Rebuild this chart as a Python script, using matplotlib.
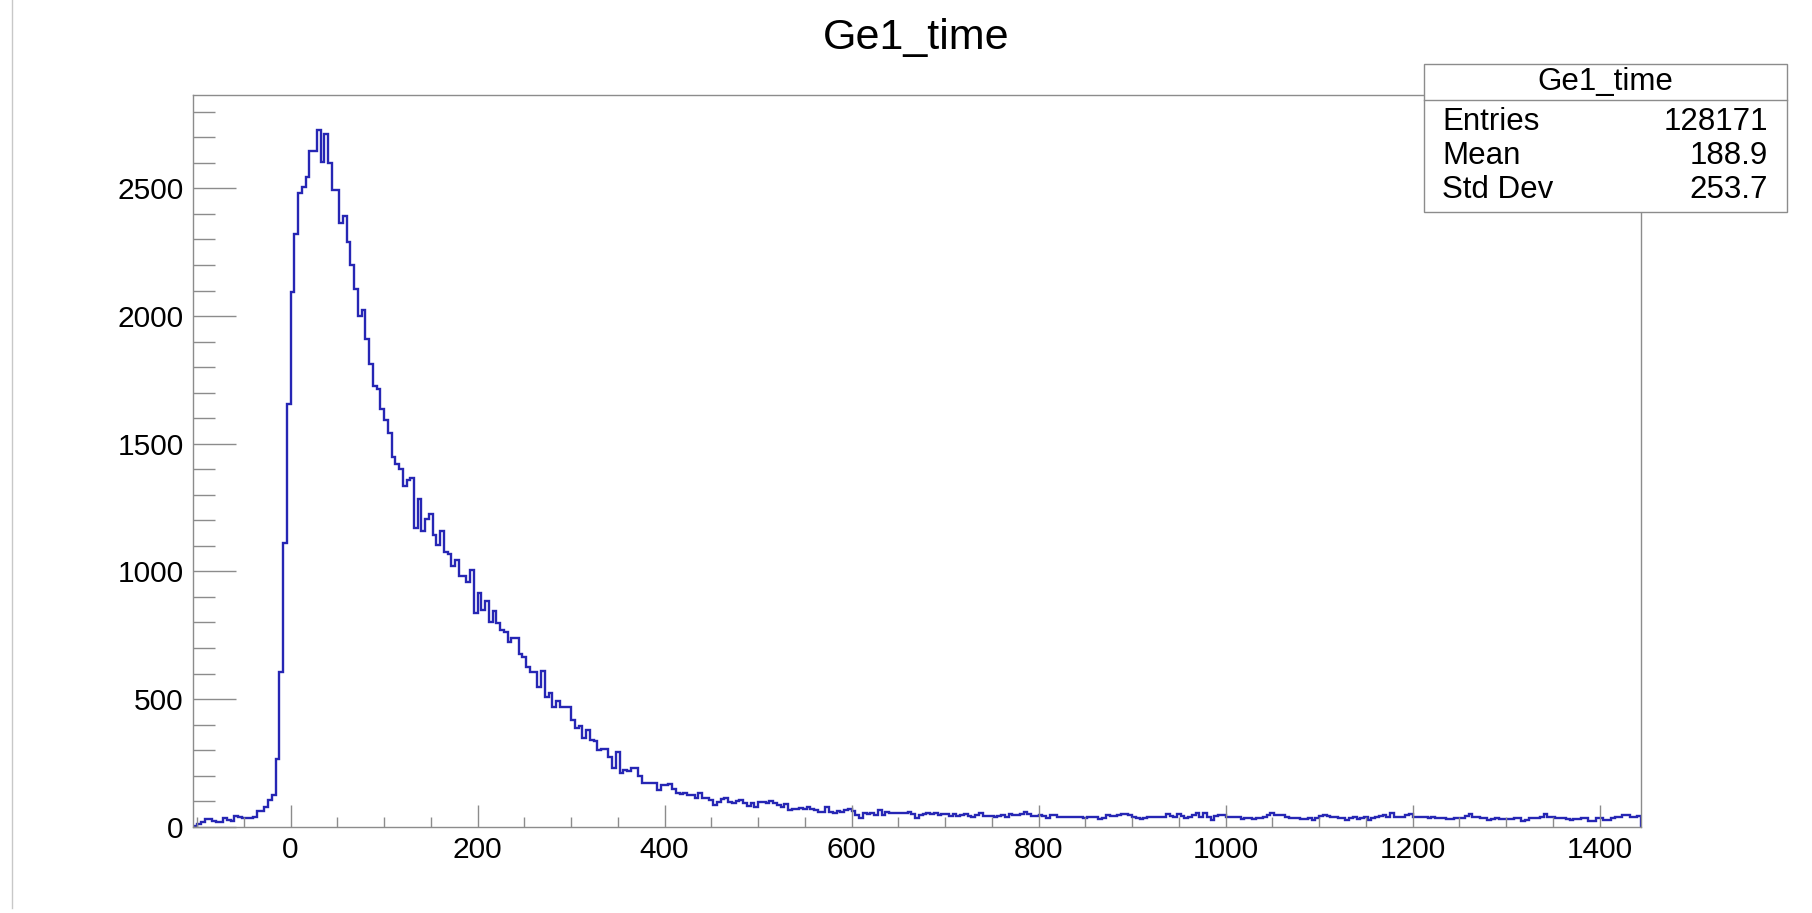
import numpy as np
import matplotlib
matplotlib.use('Agg')
matplotlib.rcParams['font.family'] = ['Liberation Sans', 'DejaVu Sans']
import matplotlib.pyplot as plt
from matplotlib.ticker import MultipleLocator
from matplotlib.patches import Rectangle
from matplotlib.lines import Line2D

# ----------------------------------------------------------------------
# 数据: Ge1_time 直方图 (bin 宽 4, 从 -104 开始)
# ----------------------------------------------------------------------
hist_name = 'Ge1_time'
bin_lo = -104
bin_width = 4

counts_rise = [4, 10, 20, 29, 29, 23, 20, 20, 33, 26, 23, 42, 40, 36, 33, 36,
               38, 61, 61, 77, 104, 126, 266, 605, 1113, 1656]
counts_peak = [2094, 2323, 2480, 2504, 2543, 2647, 2647, 2728, 2602, 2713,
               2598, 2495, 2495, 2365, 2391, 2289, 2199, 2107, 1999, 2025,
               1911, 1813, 1725, 1714]
counts_fall = [1635, 1591, 1541, 1446, 1421, 1400, 1335, 1358, 1365, 1169,
               1282, 1160, 1204, 1225, 1143, 1104, 1160, 1077, 1067, 1021,
               1045, 982, 982, 960, 1006, 836, 917]
counts_mid = [849, 884, 803, 845, 797, 771, 764, 725, 738, 738, 677, 666, 627,
              605, 605, 549, 610, 509, 522, 470, 492, 468, 468, 468, 418, 385,
              396, 346, 379, 340, 337, 300, 303, 303, 274, 231, 291, 209, 222,
              218, 229, 229, 199, 170, 170, 173, 173, 144, 163, 163, 166, 146,
              131, 127]
counts_tail = [133, 124, 124, 111, 133, 114, 114, 104, 87,
               98, 107, 111, 98, 91, 102, 104, 91, 81, 91,
               78, 95, 95, 91, 102, 91, 85, 76, 89, 65,
               69, 69, 72, 69, 76, 68, 65, 59, 59, 76,
               59, 52, 63, 59, 65, 68, 63, 46, 35, 55,
               48, 55, 46, 65, 46, 59, 52, 55, 52, 52,
               52, 57, 48, 35, 46, 50, 55, 48, 55, 46,
               48, 48, 43, 50, 43, 46, 50, 42, 39, 46,
               52, 42, 43, 43, 37, 43, 46, 39, 48, 46,
               46, 50, 57, 50, 43, 42, 46, 42, 35, 44,
               44, 39, 39, 39, 37, 39, 37, 37, 35, 37,
               39, 39, 29, 33, 46, 43, 43, 44, 51, 51,
               46, 39, 33, 29, 35, 39, 39, 39, 39,
               39, 50, 43, 39, 48, 43, 33, 39, 46, 55,
               39, 52, 39, 25, 42, 46, 46, 39, 39, 39,
               39, 29, 33, 33, 29, 33, 33, 39, 46, 52,
               46, 46, 46, 39, 33, 33, 33, 29, 29, 33,
               26, 33, 42, 46, 42, 39, 39, 35, 35, 26,
               33, 39, 29, 33, 39, 26, 33, 39, 42, 46,
               39, 55, 39, 39, 39, 46, 48, 39, 39, 39,
               39, 33, 39, 35, 33, 33, 29, 29, 33, 35,
               35, 42, 48, 39, 39, 33, 33, 26, 29, 33,
               29, 29, 30, 30, 33, 33, 24, 26, 33, 33,
               33, 39, 50, 39, 39, 35, 33, 33, 29, 26,
               29, 29, 33, 33, 24, 24, 33, 33, 26, 26,
               35, 39, 39, 46, 46, 39, 39, 42]

counts = np.array(counts_rise + counts_peak + counts_fall + counts_mid + counts_tail)
edges = bin_lo + bin_width * np.arange(len(counts) + 1)

# 统计框 (ROOT stats box)
stat_names = ['Entries', 'Mean', 'Std Dev']
stat_values = ['128171', '188.9', '253.7']

# ----------------------------------------------------------------------
# 绘图
# ----------------------------------------------------------------------
frame_color = '#8c8c8c'
line_color = '#2626b4'

fig = plt.figure(figsize=(18.12, 9.13), dpi=100)
ax = fig.add_axes([0.1067, 0.0945, 0.7988, 0.8011])

ax.stairs(counts, edges, baseline=0, color=line_color, lw=1.7)

ax.set_xlim(edges[0], edges[-1])
ax.set_ylim(0, 1.05 * counts.max())

ax.xaxis.set_major_locator(MultipleLocator(200))
ax.xaxis.set_minor_locator(MultipleLocator(50))
ax.yaxis.set_major_locator(MultipleLocator(500))
ax.yaxis.set_minor_locator(MultipleLocator(100))

ax.tick_params(which='both', direction='in', top=False, right=False,
               color=frame_color, width=1, labelsize=21.5, labelcolor='black')
ax.tick_params(axis='x', which='major', length=15.8, pad=7)
ax.tick_params(axis='x', which='minor', length=7.5)
ax.tick_params(axis='y', which='major', length=31, pad=7)
ax.tick_params(axis='y', which='minor', length=15.8)

for sp in ax.spines.values():
    sp.set_color(frame_color)
    sp.set_linewidth(1)

# 标题
fig.text(0.5055, 0.958, hist_name, ha='center', va='center', fontsize=31)

# 统计框
bx0, bx1 = 0.7859, 0.9860
by0, by1 = 0.7681, 0.9299
sep_y = 0.8905
fig.add_artist(Rectangle((bx0, by0), bx1 - bx0, by1 - by0, transform=fig.transFigure,
                         facecolor='white', edgecolor=frame_color, lw=1, zorder=5))
fig.add_artist(Line2D([bx0, bx1], [sep_y, sep_y], transform=fig.transFigure,
                      color=frame_color, lw=1, zorder=6))
fig.text((bx0 + bx1) / 2, 0.9105, hist_name, ha='center', va='center',
         fontsize=22.5, zorder=7)
for i, (name, val) in enumerate(zip(stat_names, stat_values)):
    y = 0.8667 - i * 0.0374
    fig.text(0.7958, y, name, ha='left', va='center', fontsize=22.5, zorder=7)
    fig.text(0.9757, y, val, ha='right', va='center', fontsize=22.5, zorder=7)

# 左侧竖线 (画布边框)
fig.add_artist(Line2D([0.0064, 0.0064], [0.005, 1.0], transform=fig.transFigure,
                      color='#c8c8c8', lw=1))

fig.savefig('out.png', dpi=100)
